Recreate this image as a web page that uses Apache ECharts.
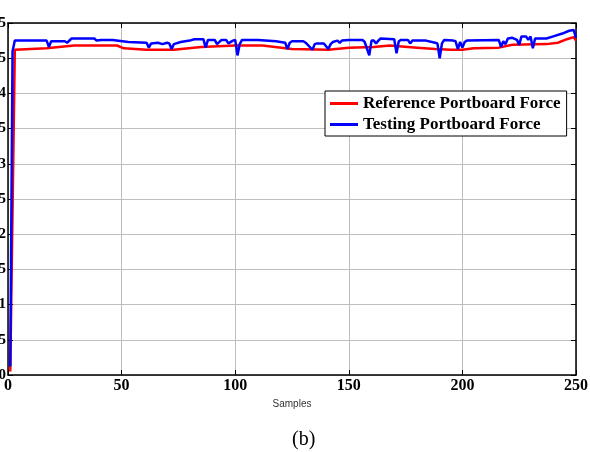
<!DOCTYPE html>
<html>
<head>
<meta charset="utf-8">
<script src="https://cdn.jsdelivr.net/npm/echarts@6/dist/echarts.min.js"></script>
<style>
  html, body { margin: 0; padding: 0; background: #fff; }
  #chart { width: 590px; height: 452px; }
</style>
</head>
<body>
<div id="chart"></div>
<script>
// x tick labels / y tick values
const xTicks = [0, 50, 100, 150, 200, 250];
const yTicks = [0, 0.5, 1, 1.5, 2, 2.5, 3, 3.5, 4, 4.5, 5];

// Reference Portboard Force (sample index, force)
const refSamples = [1, 3, 17, 29, 48, 51, 61, 73, 85, 100, 112, 125, 141, 150, 161, 168, 180, 188, 195, 200, 205, 216, 222, 237, 242, 246, 249, 250];
const refForce = [0.05, 4.62, 4.64, 4.68, 4.68, 4.64, 4.62, 4.62, 4.66, 4.68, 4.68, 4.63, 4.62, 4.65, 4.66, 4.68, 4.65, 4.63, 4.62, 4.62, 4.64, 4.65, 4.69, 4.70, 4.72, 4.77, 4.80, 4.75];

// Testing Portboard Force
const testSamples = [1, 2, 3, 17, 18, 19, 25, 26, 28, 38, 39, 41, 46, 53, 61, 62, 63, 66, 68, 70, 71, 72, 73, 76, 80, 82, 86, 87, 88, 91, 92, 94, 96, 97, 99, 100, 101, 102, 103, 110, 118, 122, 123, 124, 125, 130, 131, 134, 135, 136, 139, 141, 142, 143, 145, 146, 147, 150, 156, 157, 159, 160, 161, 162, 163, 164, 170, 171, 172, 173, 176, 177, 178, 184, 188, 189, 190, 191, 192, 196, 197, 198, 199, 200, 201, 202, 216, 217, 218, 219, 220, 222, 224, 225, 226, 228, 229, 230, 231, 232, 237, 240, 244, 247, 249, 250];
const testForce = [0.12, 4.60, 4.75, 4.75, 4.66, 4.74, 4.74, 4.72, 4.78, 4.78, 4.75, 4.76, 4.76, 4.73, 4.72, 4.65, 4.71, 4.72, 4.70, 4.72, 4.71, 4.63, 4.70, 4.73, 4.75, 4.77, 4.77, 4.65, 4.76, 4.76, 4.70, 4.76, 4.76, 4.71, 4.75, 4.76, 4.54, 4.70, 4.76, 4.76, 4.74, 4.72, 4.63, 4.72, 4.74, 4.74, 4.72, 4.62, 4.70, 4.71, 4.71, 4.63, 4.70, 4.73, 4.75, 4.72, 4.75, 4.76, 4.76, 4.73, 4.54, 4.75, 4.75, 4.71, 4.75, 4.78, 4.77, 4.57, 4.74, 4.76, 4.76, 4.71, 4.75, 4.75, 4.72, 4.71, 4.50, 4.71, 4.76, 4.75, 4.74, 4.63, 4.73, 4.65, 4.73, 4.75, 4.76, 4.66, 4.74, 4.70, 4.78, 4.79, 4.76, 4.69, 4.81, 4.81, 4.76, 4.81, 4.64, 4.78, 4.78, 4.81, 4.85, 4.89, 4.90, 4.79];

const serif = "'Liberation Serif', 'Times New Roman', serif";

const myChart = echarts.init(document.getElementById('chart'));

const boxAxisLine = { show: true, onZero: false, lineStyle: { color: '#000', width: 1.5 } };
const boxTick = { show: true, inside: true, length: 5, lineStyle: { color: '#000', width: 1 } };

const option = {
  animation: false,
  backgroundColor: '#fff',
  title: {
    text: '(b)',
    left: 292,
    top: 430,
    padding: 0,
    textStyle: { fontFamily: serif, fontSize: 20, fontWeight: 'normal', color: '#000' }
  },
  legend: {
    orient: 'vertical',
    left: 325,
    top: 91,
    padding: [4, 6, 3, 5],
    itemGap: 4,
    itemWidth: 28,
    itemHeight: 3,
    icon: 'rect',
    backgroundColor: '#fff',
    borderColor: '#000',
    borderWidth: 1,
    borderRadius: 0,
    textStyle: { fontFamily: serif, fontSize: 17, fontWeight: 'bold', color: '#000', lineHeight: 17 },
    data: ['Reference Portboard Force', 'Testing Portboard Force']
  },
  // labels on the left are cut by the page edge, as in the picture
  grid: { left: 8, right: 14, top: 23, bottom: 77, outerBoundsMode: 'none' },
  xAxis: [
    {
      type: 'value',
      min: xTicks[0],
      max: xTicks[xTicks.length - 1],
      interval: 50,
      name: 'Samples',
      nameLocation: 'middle',
      nameGap: 24,
      nameTextStyle: { fontFamily: "'Liberation Sans', Arial, sans-serif", fontSize: 10, color: '#333' },
      axisLine: boxAxisLine,
      axisTick: boxTick,
      axisLabel: { margin: 3, fontFamily: serif, fontSize: 16, fontWeight: 'bold', color: '#000' },
      splitLine: { show: true, lineStyle: { color: '#bdbdbd', width: 1 } }
    },
    {
      type: 'value',
      position: 'top',
      min: xTicks[0],
      max: xTicks[xTicks.length - 1],
      interval: 50,
      axisLine: boxAxisLine,
      axisTick: boxTick,
      axisLabel: { show: false },
      splitLine: { show: false }
    }
  ],
  yAxis: [
    {
      type: 'value',
      min: yTicks[0],
      max: yTicks[yTicks.length - 1],
      interval: 0.5,
      axisLine: boxAxisLine,
      axisTick: boxTick,
      axisLabel: { margin: 2, fontFamily: serif, fontSize: 15, fontWeight: 'bold', color: '#000' },
      splitLine: { show: true, lineStyle: { color: '#bdbdbd', width: 1 } }
    },
    {
      type: 'value',
      position: 'right',
      min: yTicks[0],
      max: yTicks[yTicks.length - 1],
      interval: 0.5,
      axisLine: boxAxisLine,
      axisTick: boxTick,
      axisLabel: { show: false },
      splitLine: { show: false }
    }
  ],
  series: [
    {
      name: 'Reference Portboard Force',
      type: 'line',
      showSymbol: false,
      color: '#ff0000',
      lineStyle: { width: 2.5, color: '#ff0000' },
      data: refSamples.map((s, i) => [s, refForce[i]]),
      z: 2
    },
    {
      name: 'Testing Portboard Force',
      type: 'line',
      showSymbol: false,
      color: '#0000ff',
      lineStyle: { width: 2.5, color: '#0000ff' },
      data: testSamples.map((s, i) => [s, testForce[i]]),
      z: 3
    }
  ]
};

myChart.setOption(option);
</script>
</body>
</html>
